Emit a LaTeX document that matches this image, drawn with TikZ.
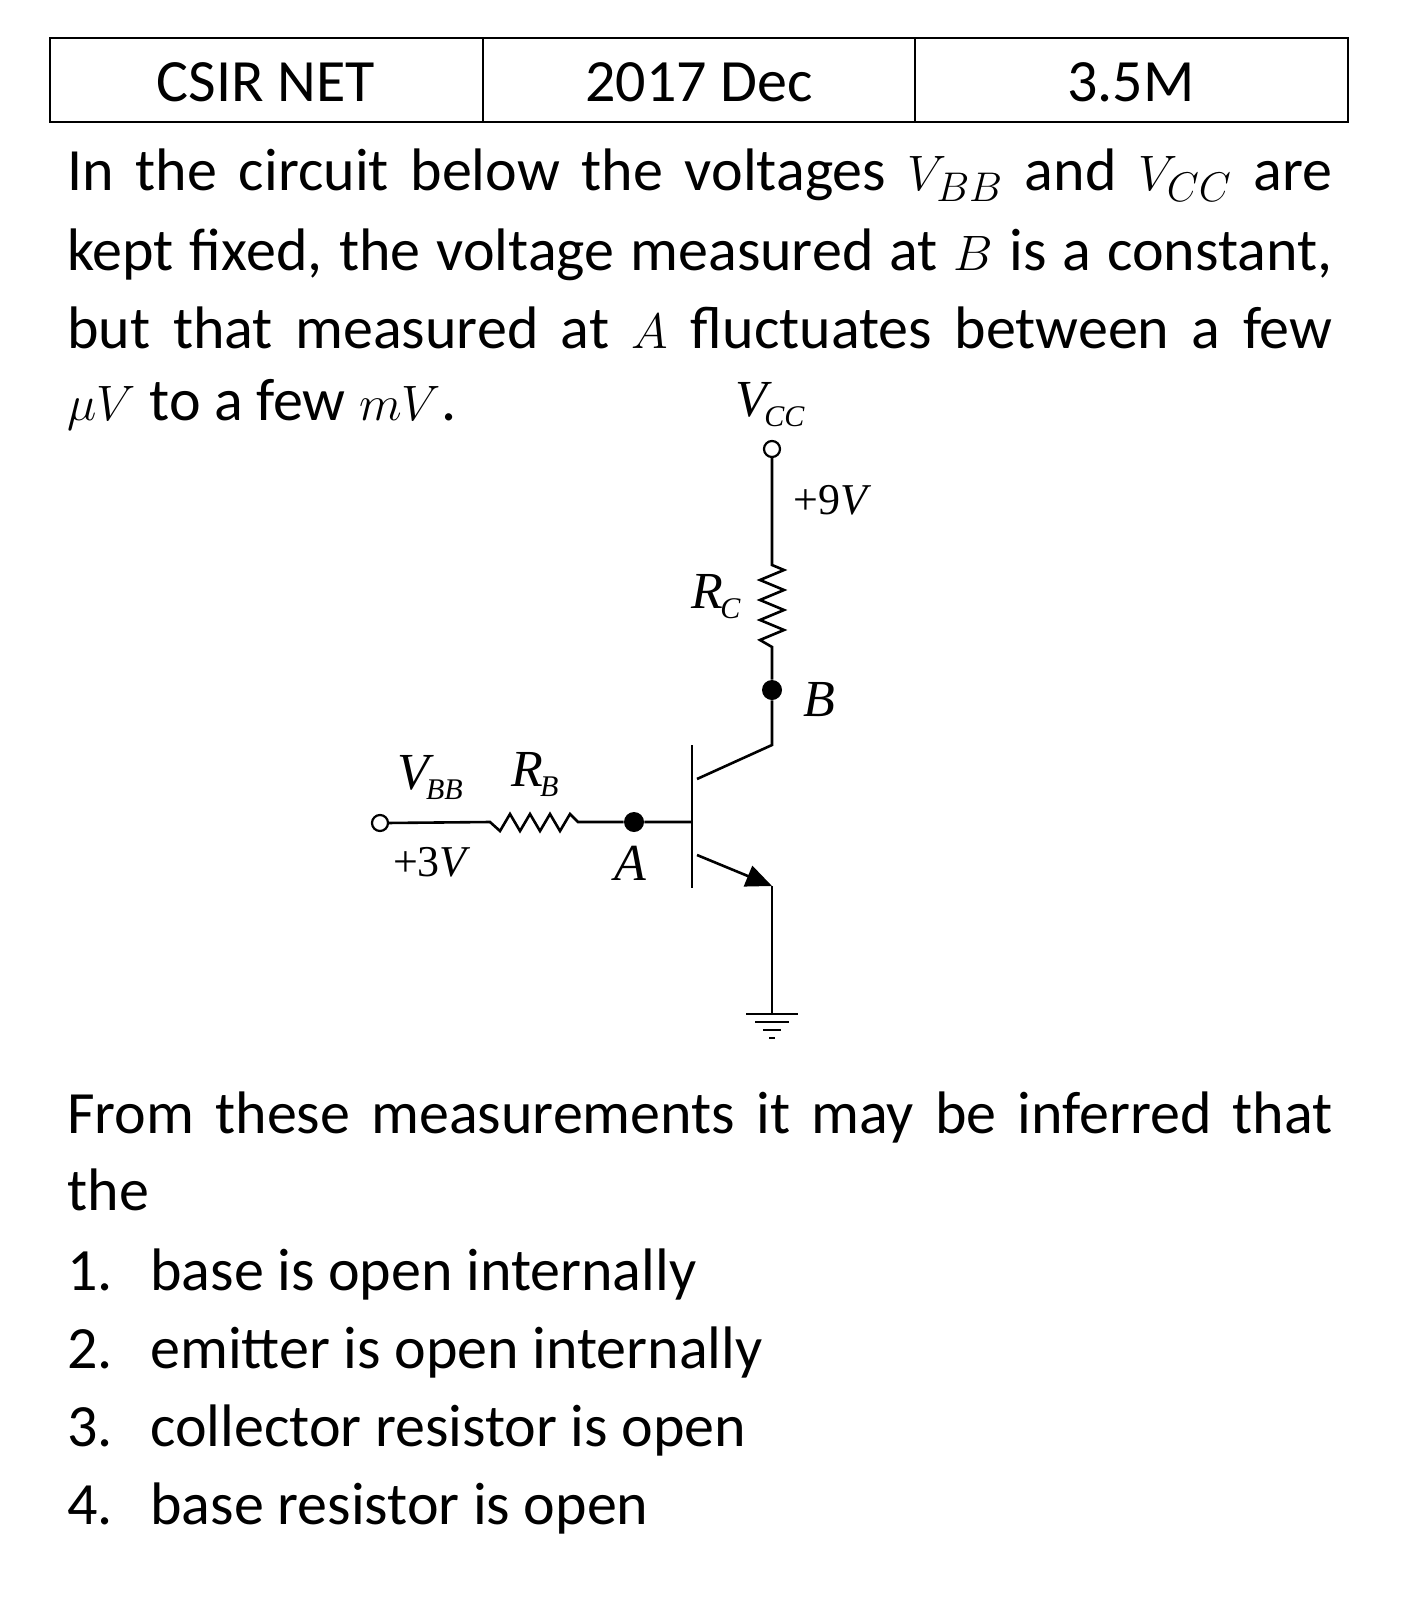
\documentclass[tikz,border=0pt]{standalone}
\usepackage{fontspec}
\setmainfont{Carlito}
\newfontfamily\ser{Liberation Serif}
\usetikzlibrary{arrows.meta}
\newcommand{\sublab}[2]{{\fontsize{26}{26}\ser\itshape #1\kern-1.5pt\raisebox{-5pt}{\fontsize{15}{15}\selectfont #2}}}
\begin{document}
\begin{tikzpicture}[x=0.5pt,y=-0.5pt,
  txt/.style={anchor=base west,inner sep=0,font=\fontsize{30}{36}\selectfont},
  lab/.style={inner sep=0,font=\fontsize{22}{22}\ser},
  wire/.style={line width=1.3pt},
  dotn/.style={circle,fill=black,inner sep=0,minimum size=10pt},
  term/.style={circle,draw,line width=1.1pt,fill=white,inner sep=0,minimum size=8pt}]
\useasboundingbox (0,0) rectangle (1427,1600);
% table
\draw[line width=1pt] (50,38) rectangle (1348,122) (483,38)--(483,122) (915,38)--(915,122);
\node[inner sep=0,font=\fontsize{30}{36}\selectfont] (t1) at (266,82) {CSIR NET};
\node[inner sep=0,font=\fontsize{30}{36}\selectfont] (t2) at (699,82) {2017 Dec};
\node[inner sep=0,font=\fontsize{30}{36}\selectfont] (t3) at (1131,82) {3.5M};
% paragraph
\node[txt] (p1) at (67,190) {\makebox[632.5pt][s]{In the circuit below the voltages $V_{BB}$ and $V_{CC}$ are}};
\node[txt] (p2) at (67,270) {\makebox[632.5pt][s]{kept fixed, the voltage measured at $B$ is a constant,}};
\node[txt] (p3) at (67,348) {\makebox[632.5pt][s]{but that measured at $A$ fluctuates between a few}};
\node[txt] (p4) at (67,420) {$\mu V$ to a few $mV$.};
\node[txt] (q1) at (67,1133) {\makebox[632.5pt][s]{From these measurements it may be inferred that}};
\node[txt] (q2) at (67,1210) {the};
\foreach \y/\n/\s in {1290/1/base is open internally,1368/2/emitter is open internally,1446/3/collector resistor is open,1524/4/base resistor is open}{
  \node[txt] (n\n) at (67,\y) {\n.};
  \node[txt] (s\n) at (150,\y) {\s};
}
% circuit
\coordinate (rct) at (772,565);
\coordinate (rcb) at (772,647);
\coordinate (cup) at (772,745);
\coordinate (cbar) at (697,779);
\coordinate (ebar) at (697,855);
\coordinate (eend) at (772,886);
\coordinate (gnd) at (772,1014);
\coordinate (bbar) at (692,822);
\coordinate (rbl) at (490,822);
\coordinate (rbr) at (578,822);
\node[dotn] (B) at (772,690) {};
\node[dotn] (A) at (634,822) {};
\draw[wire] (692,745)--(692,888);
\draw[wire] (772,455)--(rct) -- (784,570) -- (760,580) -- (784,590) -- (760,600) -- (784,610) -- (760,620) -- (784,630) -- (760,640) -- (rcb) -- (B) -- (cup) -- (cbar);
\draw[wire] (bbar) -- (A) -- (rbr) -- (570,814) -- (560,831) -- (550,814) -- (540,831) -- (530,814) -- (520,831) -- (510,814) -- (500,831) -- (rbl) -- (386,823);
\draw[wire,-{Triangle[length=13pt,width=11pt]}] (ebar) -- (eend);
\draw[wire] (eend) -- (gnd);
\draw[wire] (746,1014)--(798,1014) (755,1022)--(789,1022) (763,1030)--(781,1030) (769,1038)--(775,1038);
\node[term] (vcc) at (772,449) {};
\node[term] (vbb) at (380,823) {};
% labels
\node[inner sep=0] (lvcc) at (770,405) {\sublab{V}{CC}};
\node[lab,anchor=west] (l9) at (793,500) {+9\textit{V}};
\node[inner sep=0] (lrc) at (716,597) {\sublab{R}{C}};
\node[lab,anchor=west,font=\fontsize{26}{26}\ser\itshape] (lb) at (803,700) {B};
\node[inner sep=0] (lvbb) at (430,778) {\sublab{V}{BB}};
\node[inner sep=0] (lrb) at (535,775) {\sublab{R}{B}};
\node[lab] (l3) at (432,862) {+3\textit{V}};
\node[lab,font=\fontsize{26}{26}\ser\itshape] (la) at (630,863) {A};
\end{tikzpicture}
\end{document}
